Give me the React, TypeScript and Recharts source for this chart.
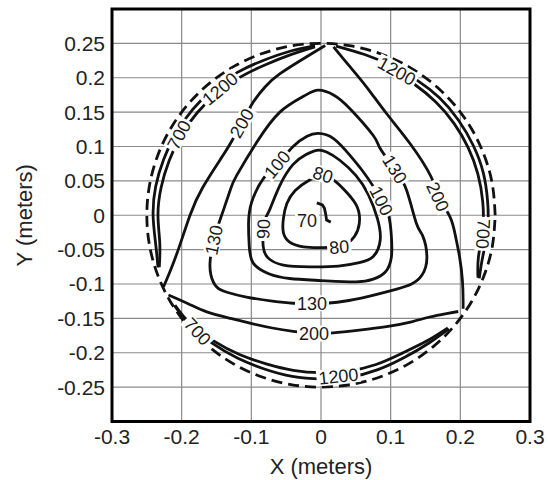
import React from 'react';
import { ScatterChart, Scatter, XAxis, YAxis, CartesianGrid, ReferenceArea } from 'recharts';

type P = { x: number; y: number };
type L = { x: number; y: number; text: string; angle: number };

const xTicks = [-0.3, -0.2, -0.1, 0, 0.1, 0.2, 0.3];
const yTicks = [-0.25, -0.2, -0.15, -0.1, -0.05, 0, 0.05, 0.1, 0.15, 0.2, 0.25];

const contour70: P[] = [
  { x: -0.006, y: 0.018 }, { x: 0.002, y: 0.015 }, { x: 0.005, y: 0.01 },
  { x: 0.007, y: 0.0 }, { x: 0.008, y: -0.007 }, { x: 0.014, y: -0.01 },
];

const contour80: P[] = [
  { x: 0.003, y: 0.06 }, { x: -0.017, y: 0.051 }, { x: -0.037, y: 0.036 }, { x: -0.049, y: 0.017 },
  { x: -0.054, y: -0.005 }, { x: -0.054, y: -0.025 }, { x: -0.045, y: -0.039 }, { x: -0.025, y: -0.046 },
  { x: 0.0, y: -0.047 }, { x: 0.026, y: -0.046 }, { x: 0.038, y: -0.041 }, { x: 0.048, y: -0.031 },
  { x: 0.055, y: -0.012 }, { x: 0.052, y: 0.012 }, { x: 0.038, y: 0.032 }, { x: 0.021, y: 0.049 },
  { x: 0.003, y: 0.06 },
];

const contour90: P[] = [
  { x: -0.083, y: -0.019 }, { x: -0.083, y: -0.045 }, { x: -0.076, y: -0.062 }, { x: -0.054, y: -0.0725 },
  { x: -0.016, y: -0.075 }, { x: 0.025, y: -0.074 }, { x: 0.055, y: -0.069 }, { x: 0.075, y: -0.06 },
  { x: 0.085, y: -0.036 }, { x: 0.081, y: -0.005 }, { x: 0.068, y: 0.03 }, { x: 0.05, y: 0.058 },
  { x: 0.027, y: 0.08 }, { x: 0.008, y: 0.092 }, { x: -0.006, y: 0.0945 }, { x: -0.022, y: 0.088 },
  { x: -0.04, y: 0.074 }, { x: -0.059, y: 0.0436 }, { x: -0.073, y: 0.0097 }, { x: -0.08, y: -0.005 },
  { x: -0.083, y: -0.019 },
];

const contour100: P[] = [
  { x: 0.087, y: 0.021 }, { x: 0.097, y: 0.0 }, { x: 0.101, y: -0.03 }, { x: 0.101, y: -0.061 },
  { x: 0.092, y: -0.083 }, { x: 0.075, y: -0.093 }, { x: 0.05, y: -0.097 }, { x: 0.0, y: -0.095 },
  { x: -0.045, y: -0.092 }, { x: -0.075, y: -0.085 }, { x: -0.097, y: -0.07 }, { x: -0.103, y: -0.045 },
  { x: -0.104, y: -0.012 }, { x: -0.0995, y: 0.019 }, { x: -0.083, y: 0.053 }, { x: -0.063, y: 0.074 },
  { x: -0.04, y: 0.1 }, { x: -0.02, y: 0.115 }, { x: -0.004, y: 0.119 }, { x: 0.018, y: 0.1115 },
  { x: 0.0416, y: 0.087 }, { x: 0.06, y: 0.064 }, { x: 0.075, y: 0.042 }, { x: 0.087, y: 0.021 },
];

const contour130: P[] = [
  { x: -0.013, y: -0.128 }, { x: 0.008, y: -0.128 }, { x: 0.04, y: -0.124 }, { x: 0.08, y: -0.115 },
  { x: 0.11, y: -0.107 }, { x: 0.13, y: -0.1 }, { x: 0.145, y: -0.087 }, { x: 0.152, y: -0.061 },
  { x: 0.146, y: -0.03 }, { x: 0.137, y: -0.012 }, { x: 0.123, y: 0.036 }, { x: 0.106, y: 0.067 },
  { x: 0.085, y: 0.097 }, { x: 0.075, y: 0.116 }, { x: 0.0416, y: 0.155 }, { x: 0.018, y: 0.175 },
  { x: -0.004, y: 0.182 }, { x: -0.025, y: 0.173 }, { x: -0.059, y: 0.15 }, { x: -0.092, y: 0.1065 },
  { x: -0.121, y: 0.058 }, { x: -0.1305, y: 0.036 }, { x: -0.145, y: -0.007 }, { x: -0.154, y: -0.036 },
  { x: -0.159, y: -0.065 }, { x: -0.158, y: -0.087 }, { x: -0.15, y: -0.104 }, { x: -0.135, y: -0.112 },
  { x: -0.107, y: -0.119 }, { x: -0.07, y: -0.125 }, { x: -0.04, y: -0.128 }, { x: -0.013, y: -0.128 },
];

const contour200Left: P[] = [
  { x: 0.006, y: 0.247 }, { x: -0.02, y: 0.231 }, { x: -0.0588, y: 0.206 }, { x: -0.08, y: 0.187 },
  { x: -0.097, y: 0.165 }, { x: -0.114, y: 0.134 }, { x: -0.128, y: 0.108 }, { x: -0.142, y: 0.085 },
  { x: -0.17, y: 0.04 }, { x: -0.188, y: 0.0 }, { x: -0.2035, y: -0.046 }, { x: -0.216, y: -0.08 },
  { x: -0.226, y: -0.104 },
];

const contour200Bottom: P[] = [
  { x: -0.219, y: -0.116 }, { x: -0.19, y: -0.129 }, { x: -0.164, y: -0.1405 }, { x: -0.13, y: -0.15 },
  { x: -0.102, y: -0.157 }, { x: -0.07, y: -0.164 }, { x: -0.04, y: -0.169 }, { x: -0.01, y: -0.172 },
  { x: 0.0177, y: -0.171 }, { x: 0.055, y: -0.167 }, { x: 0.094, y: -0.162 }, { x: 0.13, y: -0.155 },
  { x: 0.156, y: -0.148 }, { x: 0.18, y: -0.143 }, { x: 0.197, y: -0.14 },
];

const contour200Right: P[] = [
  { x: 0.204, y: -0.136 }, { x: 0.204, y: -0.1235 }, { x: 0.203, y: -0.095 }, { x: 0.199, y: -0.061 },
  { x: 0.193, y: -0.03 }, { x: 0.185, y: -0.002 }, { x: 0.169, y: 0.027 }, { x: 0.158, y: 0.056 },
  { x: 0.128, y: 0.104 }, { x: 0.094, y: 0.148 }, { x: 0.0655, y: 0.1865 }, { x: 0.04, y: 0.218 },
  { x: 0.018, y: 0.245 },
];

const arc1200TopLeft: P[] = [
  { x: -0.0086, y: 0.2469 }, { x: -0.0422, y: 0.2393 }, { x: -0.0821, y: 0.2255 }, { x: -0.12, y: 0.2078 },
  { x: -0.1543, y: 0.1838 }, { x: -0.1838, y: 0.1543 }, { x: -0.2078, y: 0.12 }, { x: -0.2255, y: 0.0821 },
  { x: -0.2373, y: 0.0418 }, { x: -0.241, y: 0.0 }, { x: -0.2373, y: -0.0418 }, { x: -0.234, y: -0.076 },
];

const arc700TopLeft: P[] = [
  { x: -0.0086, y: 0.2449 }, { x: -0.0413, y: 0.2344 }, { x: -0.0797, y: 0.219 }, { x: -0.116, y: 0.2009 },
  { x: -0.1491, y: 0.1777 }, { x: -0.1777, y: 0.1491 }, { x: -0.2009, y: 0.116 }, { x: -0.218, y: 0.0793 },
  { x: -0.2295, y: 0.0404 }, { x: -0.234, y: 0.0 }, { x: -0.2314, y: -0.0408 }, { x: -0.2321, y: -0.0754 },
];

const arc1200Bottom: P[] = [
  { x: -0.2103, y: -0.1314 }, { x: -0.1892, y: -0.1588 }, { x: -0.1562, y: -0.1861 }, { x: -0.12, y: -0.2078 },
  { x: -0.0814, y: -0.2236 }, { x: -0.0413, y: -0.2344 }, { x: 0.0, y: -0.238 }, { x: 0.0415, y: -0.2354 },
  { x: 0.0817, y: -0.2246 }, { x: 0.1195, y: -0.207 }, { x: 0.1556, y: -0.1854 }, { x: 0.1835, y: -0.1653 },
];

const arc700Bottom: P[] = [
  { x: -0.2095, y: -0.1309 }, { x: -0.1877, y: -0.1575 }, { x: -0.1536, y: -0.1831 }, { x: -0.117, y: -0.2026 },
  { x: -0.0787, y: -0.2161 }, { x: -0.0398, y: -0.2255 }, { x: 0.0, y: -0.229 }, { x: 0.0399, y: -0.2265 },
  { x: 0.079, y: -0.2171 }, { x: 0.116, y: -0.2009 }, { x: 0.153, y: -0.1823 }, { x: 0.1821, y: -0.1639 },
];

const arc1200Right: P[] = [
  { x: 0.2272, y: -0.0918 }, { x: 0.2318, y: -0.0621 }, { x: 0.2391, y: -0.0209 }, { x: 0.2391, y: 0.0209 },
  { x: 0.2328, y: 0.0624 }, { x: 0.2184, y: 0.1018 }, { x: 0.1974, y: 0.1382 }, { x: 0.1704, y: 0.1704 },
  { x: 0.1377, y: 0.1966 }, { x: 0.1014, y: 0.2175 }, { x: 0.0626, y: 0.2338 }, { x: 0.0215, y: 0.2461 },
];

const arc700Right: P[] = [
  { x: 0.2253, y: -0.091 }, { x: 0.226, y: -0.0606 }, { x: 0.2321, y: -0.0203 }, { x: 0.2321, y: 0.0203 },
  { x: 0.2251, y: 0.0603 }, { x: 0.2112, y: 0.0985 }, { x: 0.1909, y: 0.1336 }, { x: 0.1648, y: 0.1648 },
  { x: 0.1336, y: 0.1909 }, { x: 0.1099, y: 0.2066 },
];

const boundaryCircle: P[] = [
  { x: 0.25, y: 0 }, { x: 0.2462, y: 0.0434 }, { x: 0.2349, y: 0.0855 }, { x: 0.2165, y: 0.125 },
  { x: 0.1915, y: 0.1607 }, { x: 0.1607, y: 0.1915 }, { x: 0.125, y: 0.2165 }, { x: 0.0855, y: 0.2349 },
  { x: 0.0434, y: 0.2462 }, { x: 0, y: 0.25 }, { x: -0.0434, y: 0.2462 }, { x: -0.0855, y: 0.2349 },
  { x: -0.125, y: 0.2165 }, { x: -0.1607, y: 0.1915 }, { x: -0.1915, y: 0.1607 }, { x: -0.2165, y: 0.125 },
  { x: -0.2349, y: 0.0855 }, { x: -0.2462, y: 0.0434 }, { x: -0.25, y: 0 }, { x: -0.2462, y: -0.0434 },
  { x: -0.2349, y: -0.0855 }, { x: -0.2165, y: -0.125 }, { x: -0.1915, y: -0.1607 }, { x: -0.1607, y: -0.1915 },
  { x: -0.125, y: -0.2165 }, { x: -0.0855, y: -0.2349 }, { x: -0.0434, y: -0.2462 }, { x: 0, y: -0.25 },
  { x: 0.0434, y: -0.2462 }, { x: 0.0855, y: -0.2349 }, { x: 0.125, y: -0.2165 }, { x: 0.1607, y: -0.1915 },
  { x: 0.1915, y: -0.1607 }, { x: 0.2165, y: -0.125 }, { x: 0.2349, y: -0.0855 }, { x: 0.2462, y: -0.0434 },
  { x: 0.25, y: 0 },
];

const contourLabels: L[] = [
  { text: '70', x: -0.02, y: -0.008, angle: 0 },
  { text: '80', x: 0.003, y: 0.059, angle: 18 },
  { text: '80', x: 0.026, y: -0.046, angle: -5 },
  { text: '90', x: -0.083, y: -0.02, angle: -88 },
  { text: '100', x: -0.063, y: 0.074, angle: -50 },
  { text: '100', x: 0.087, y: 0.021, angle: 63 },
  { text: '130', x: -0.154, y: -0.036, angle: -78 },
  { text: '130', x: 0.106, y: 0.067, angle: 58 },
  { text: '130', x: -0.013, y: -0.128, angle: 0 },
  { text: '200', x: -0.114, y: 0.134, angle: -60 },
  { text: '200', x: 0.168, y: 0.027, angle: 65 },
  { text: '200', x: -0.01, y: -0.172, angle: 0 },
  { text: '1200', x: -0.145, y: 0.184, angle: -40 },
  { text: '700', x: -0.204, y: 0.117, angle: -62 },
  { text: '1200', x: 0.109, y: 0.21, angle: 29 },
  { text: '700', x: 0.233, y: -0.027, angle: 93 },
  { text: '700', x: -0.177, y: -0.169, angle: 47 },
  { text: '1200', x: 0.025, y: -0.234, angle: -6 },
];

const FONT = '"Liberation Sans", Arial, Helvetica, sans-serif';
const LINE = '#111';

const NoDot = () => <g />;

const LabelShape = (props: any) => {
  const { cx, cy, payload } = props;
  const w = payload.text.length * 10 + 4;
  return (
    <g transform={`rotate(${payload.angle}, ${cx}, ${cy})`}>
      <rect x={cx - w / 2} y={cy - 8} width={w} height={16} fill="#fff" />
      <text x={cx} y={cy} dy="0.36em" textAnchor="middle" fontSize={18} fontFamily={FONT} fill="#1a1a1a">
        {payload.text}
      </text>
    </g>
  );
};

const solidSeries: P[][] = [
  contour70, contour80, contour90, contour100, contour130,
  contour200Left, contour200Bottom, contour200Right,
  arc1200TopLeft, arc700TopLeft, arc1200Bottom, arc700Bottom, arc1200Right, arc700Right,
];

export default function App() {
  return (
    <div style={{ position: 'absolute', left: 0, top: 0, background: '#fff' }}>
      <ScatterChart width={548} height={480} margin={{ top: 9, right: 18, bottom: 0, left: 0 }}>
        <CartesianGrid stroke="#8a8a8a" strokeWidth={1.2} />
        <XAxis
          type="number"
          dataKey="x"
          domain={[-0.3, 0.3]}
          ticks={xTicks}
          interval={0}
          height={58.5}
          tickLine={false}
          axisLine={false}
          tickSize={0}
          tickMargin={8}
          tick={{ fill: '#222', fontSize: 21, fontFamily: FONT }}
          label={{ value: 'X (meters)', position: 'insideBottom', offset: 6, fontSize: 22, fill: '#222', fontFamily: FONT }}
        />
        <YAxis
          type="number"
          dataKey="y"
          domain={[-0.3, 0.3]}
          ticks={yTicks}
          interval={0}
          width={112}
          tickLine={false}
          axisLine={false}
          tickSize={0}
          tickMargin={7}
          tick={{ fill: '#222', fontSize: 21, fontFamily: FONT }}
          label={{ value: 'Y (meters)', angle: -90, position: 'insideLeft', offset: 24, fontSize: 22, fill: '#222', fontFamily: FONT, style: { textAnchor: 'middle' } }}
        />
        {solidSeries.map((d, i) => (
          <Scatter
            key={'s' + i}
            data={d}
            line={{ stroke: LINE, strokeWidth: 2.8 }}
            lineType="joint"
            lineJointType={i === 0 ? 'linear' : 'natural'}
            shape={NoDot}
            isAnimationActive={false}
            legendType="none"
          />
        ))}
        <Scatter
          data={boundaryCircle}
          line={{ stroke: LINE, strokeWidth: 2.8, strokeDasharray: '11 6' }}
          lineType="joint"
          lineJointType="natural"
          shape={NoDot}
          isAnimationActive={false}
          legendType="none"
        />
        <Scatter data={contourLabels} shape={LabelShape} isAnimationActive={false} legendType="none" />
        <ReferenceArea x1={-0.3} x2={0.3} y1={-0.3} y2={0.3} fill="none" fillOpacity={0} stroke="#000" strokeWidth={3} />
      </ScatterChart>
    </div>
  );
}
